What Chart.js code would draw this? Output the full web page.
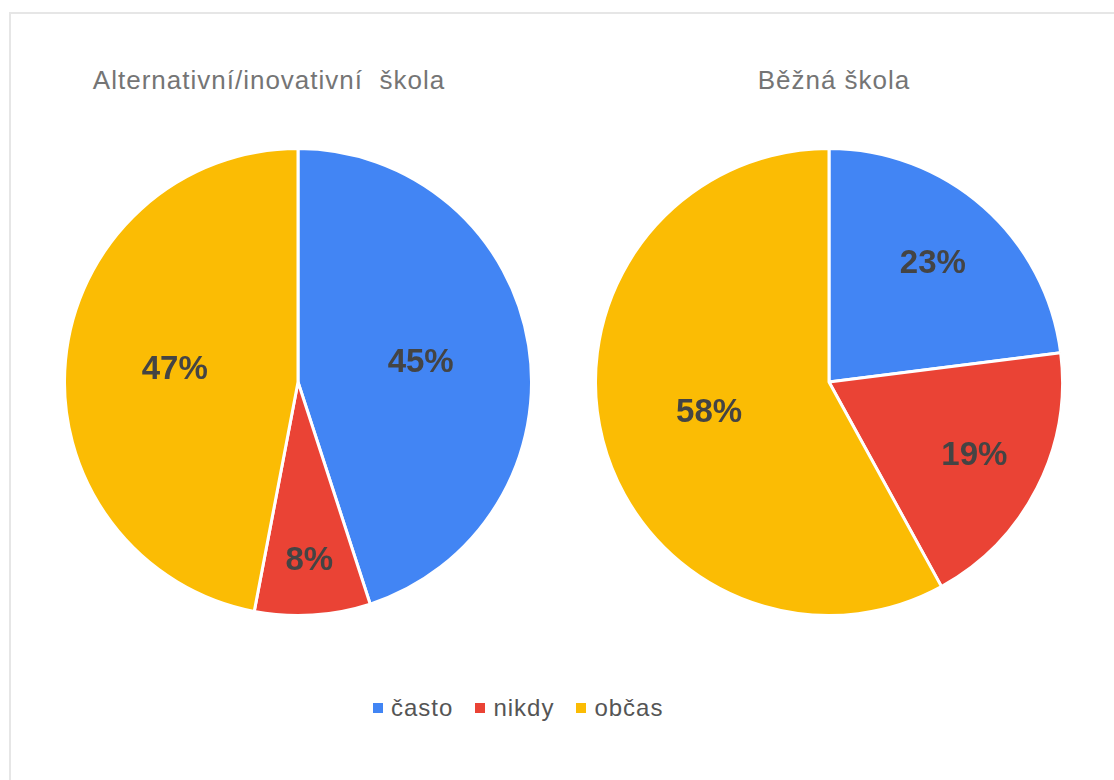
<!DOCTYPE html>
<html>
<head>
<meta charset="utf-8">
<script src="https://cdn.jsdelivr.net/npm/chart.js@4"></script>
<style>
  body { margin: 0; background: #fff; font-family: Arial, "Liberation Sans", sans-serif; }
  #wrap { position: relative; width: 1114px; height: 780px; overflow: hidden; }
  #frame { position: absolute; left: 9px; top: 12px; width: 1200px; height: 900px; border: 2px solid #e6e6e6; box-sizing: border-box; }
  .title { position: absolute; top: 65px; font-size: 26px; letter-spacing: 1px; color: #757575; white-space: pre; transform: translateX(-50%); }
  .box { position: absolute; width: 470px; height: 470px; }
  #legend { position: absolute; top: 694px; left: 373px; font-size: 24px; letter-spacing: 1px; color: #555; white-space: nowrap; }
  #legend span.sq { display: inline-block; width: 10px; height: 10px; margin-right: 8px; vertical-align: 3px; }
  #legend span.it { margin-right: 22px; }
</style>
</head>
<body>
<div id="wrap">
  <div id="frame"></div>
  <div class="title" id="t1" style="left:269px"></div>
  <div class="title" id="t2" style="left:834px"></div>
  <div class="box" style="left:63px;top:147px"><canvas id="pie1"></canvas></div>
  <div class="box" style="left:594px;top:147px"><canvas id="pie2"></canvas></div>
  <div id="legend"></div>
</div>
<script>
var categories = ['často', 'nikdy', 'občas'];
var titles = ['Alternativní/inovativní  škola', 'Běžná škola'];
var altSchool = [45, 8, 47];
var normalSchool = [23, 19, 58];
var colors = ['#4285F4', '#EA4335', '#FBBC04'];

// percent labels inside the slices
var sliceLabels = {
  id: 'sliceLabels',
  afterDatasetsDraw: function (chart) {
    var ctx = chart.ctx;
    var data = chart.data.datasets[0].data;
    var total = data.reduce(function (a, b) { return a + b; }, 0);
    chart.getDatasetMeta(0).data.forEach(function (arc, i) {
      var p = arc.getProps(['x', 'y', 'startAngle', 'endAngle', 'outerRadius']);
      var pct = data[i] / total * 100;
      var frac = Math.min(0.8, Math.max(0.53, 0.5 + 0.32 * (1 - pct / 50)));
      var mid = (p.startAngle + p.endAngle) / 2;
      var r = p.outerRadius * frac;
      ctx.save();
      ctx.font = 'bold 33px Arial, "Liberation Sans", sans-serif';
      ctx.fillStyle = '#444444';
      ctx.textAlign = 'center';
      ctx.textBaseline = 'middle';
      ctx.fillText(Math.round(pct) + '%', p.x + Math.cos(mid) * r, p.y + Math.sin(mid) * r);
      ctx.restore();
    });
  }
};

function makePie(id, values) {
  return new Chart(document.getElementById(id).getContext('2d'), {
    type: 'pie',
    data: {
      labels: categories,
      datasets: [{
        data: values,
        backgroundColor: colors,
        borderColor: '#ffffff',
        borderWidth: 3
      }]
    },
    options: {
      responsive: true,
      maintainAspectRatio: false,
      animation: false,
      layout: { padding: 0 },
      plugins: {
        legend: { display: false },
        tooltip: { enabled: false }
      }
    },
    plugins: [sliceLabels]
  });
}

document.getElementById('t1').textContent = titles[0];
document.getElementById('t2').textContent = titles[1];
makePie('pie1', altSchool);
makePie('pie2', normalSchool);

var legend = document.getElementById('legend');
categories.forEach(function (c, i) {
  var sq = document.createElement('span');
  sq.className = 'sq';
  sq.style.background = colors[i];
  var it = document.createElement('span');
  it.className = 'it';
  it.textContent = c;
  legend.appendChild(sq);
  legend.appendChild(it);
});
</script>
</body>
</html>
